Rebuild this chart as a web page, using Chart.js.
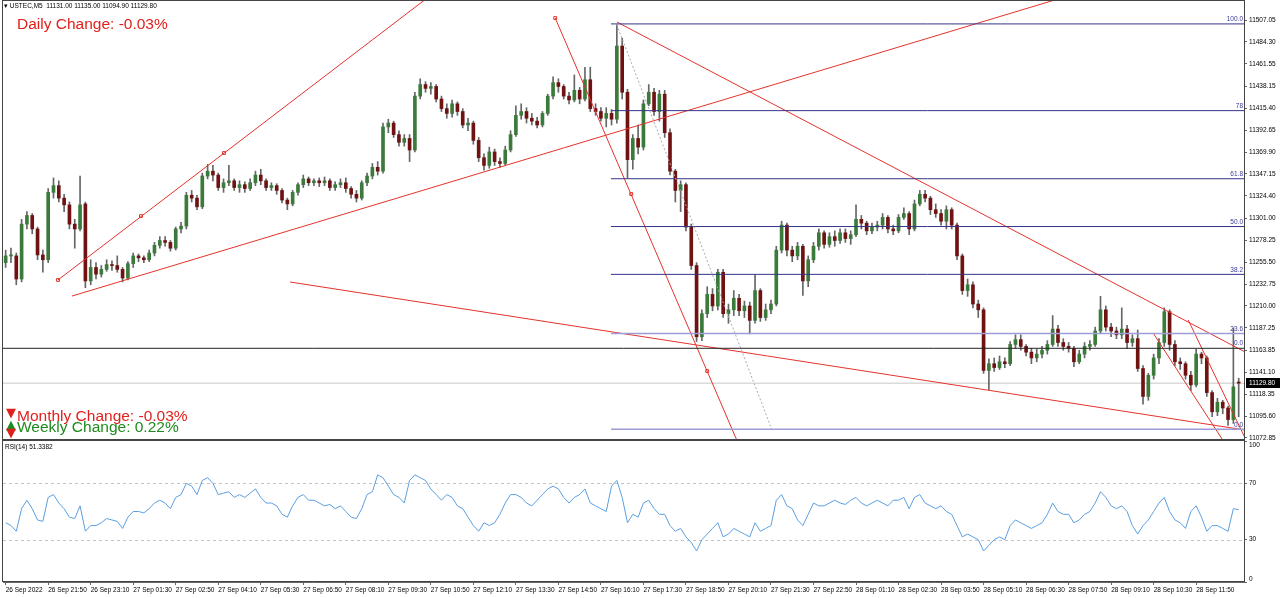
<!DOCTYPE html>
<html>
<head>
<meta charset="utf-8">
<script src="https://cdn.jsdelivr.net/npm/chart.js@4.4.0/dist/chart.umd.min.js"></script>
<style>
body { margin: 0; background: #fff; width: 1280px; height: 598px; overflow: hidden; position: relative; font-family: "Liberation Sans", Arial, sans-serif; }
canvas { position: absolute; left: 0; }
#priceChart { top: 0; }
#rsiChart { top: 430px; }
.lbl { position: absolute; white-space: pre; }
.small { font-size: 6.5px; color: #000; line-height: 8px; }
.big { font-size: 15.5px; line-height: 15px; }
.tri { font-family: "DejaVu Sans", sans-serif; font-size: 13px; line-height: 13px; }
</style>
</head>
<body>
<canvas id="priceChart" width="1280" height="441"></canvas>
<canvas id="rsiChart" width="1280" height="168"></canvas>

<div class="lbl small" style="left:4px; top:2px;">▾ USTEC,M5  11131.00 11135.00 11094.90 11129.80</div>
<div class="lbl big" style="left:17px; top:16px; color:#e0201c;">Daily Change: -0.03%</div>
<div class="lbl tri" style="left:6px; top:406px; color:#e0201c;">▼</div>
<div class="lbl big" style="left:17px; top:408px; color:#e0201c;">Monthly Change: -0.03%</div>
<div class="lbl tri" style="left:6px; top:418px; color:#1f8a1f;">▲</div>
<div class="lbl big" style="left:17px; top:419px; color:#1f8a1f;">Weekly Change: 0.22%</div>
<div class="lbl tri" style="left:6px; top:426px; color:#e0201c;">▼</div>
<div class="lbl small" style="left:5px; top:443px;">RSI(14) 51.3382</div>

<script>
// USTEC M5 candles (two M5 bars per candle)
const opens = [
    11255, 11262, 11262, 11238, 11295, 11304, 11290, 11263, 11258, 11328,
    11335, 11322, 11315, 11295, 11290, 11316, 11236, 11250, 11243, 11248,
    11253, 11252, 11248, 11239, 11254, 11262, 11260, 11258, 11265, 11273,
    11278, 11276, 11270, 11290, 11293, 11325, 11322, 11313, 11345, 11350,
    11346, 11333, 11338, 11340, 11333, 11336, 11332, 11338, 11346, 11340,
    11333, 11335, 11330, 11320, 11316, 11328, 11336, 11342, 11338, 11340,
    11338, 11340, 11333, 11336, 11338, 11332, 11326, 11322, 11338, 11345,
    11354, 11350, 11396, 11400, 11388, 11380, 11384, 11372, 11428, 11440,
    11436, 11438, 11425, 11415, 11410, 11420, 11412, 11398, 11400, 11382,
    11364, 11356, 11370, 11360, 11358, 11372, 11388, 11408, 11412, 11405,
    11402, 11398, 11410, 11428, 11442, 11438, 11428, 11424, 11434, 11425,
    11445, 11415, 11412, 11405, 11410, 11404, 11480, 11432, 11362, 11384,
    11375, 11420, 11432, 11412, 11430, 11390, 11350, 11330, 11336, 11292,
    11252, 11178, 11202, 11222, 11210, 11245, 11202, 11206, 11218, 11205,
    11210, 11195, 11226, 11198, 11206, 11212, 11268, 11294, 11268, 11262,
    11272, 11236, 11258, 11272, 11286, 11274, 11282, 11278, 11286, 11280,
    11284, 11300, 11296, 11288, 11292, 11294, 11302, 11290, 11288, 11302,
    11306, 11290, 11316, 11326, 11322, 11310, 11306, 11298, 11310, 11294,
    11262, 11226, 11232, 11212, 11206, 11143, 11150, 11146, 11152, 11150,
    11170, 11175, 11168, 11162, 11156, 11160, 11164, 11170, 11186, 11172,
    11168, 11166, 11152, 11160, 11168, 11170, 11184, 11206, 11188, 11184,
    11180, 11186, 11172, 11176, 11145, 11116, 11138, 11156, 11172, 11204,
    11170, 11152, 11150, 11138, 11128, 11160, 11156, 11120, 11100, 11110,
    11104, 11092, 11131
]
const highs = [
    11268, 11270, 11265, 11300, 11308, 11306, 11292, 11268, 11332, 11343,
    11340, 11326, 11318, 11300, 11345, 11318, 11258, 11255, 11252, 11258,
    11257, 11262, 11250, 11256, 11265, 11264, 11262, 11268, 11276, 11282,
    11282, 11278, 11292, 11297, 11328, 11330, 11325, 11348, 11357, 11356,
    11348, 11342, 11356, 11342, 11340, 11339, 11342, 11350, 11352, 11342,
    11338, 11337, 11332, 11322, 11330, 11338, 11346, 11344, 11342, 11343,
    11344, 11342, 11339, 11342, 11343, 11334, 11330, 11340, 11348, 11358,
    11360, 11400, 11404, 11402, 11392, 11388, 11388, 11432, 11446, 11443,
    11442, 11440, 11428, 11420, 11424, 11422, 11415, 11405, 11402, 11385,
    11368, 11375, 11373, 11364, 11376, 11392, 11418, 11420, 11416, 11410,
    11406, 11412, 11430, 11448, 11446, 11440, 11432, 11450, 11437, 11458,
    11458, 11420, 11416, 11416, 11414, 11502, 11488, 11435, 11388, 11398,
    11424, 11440, 11436, 11434, 11434, 11394, 11352, 11340, 11338, 11295,
    11255, 11206, 11230, 11228, 11248, 11248, 11212, 11226, 11222, 11215,
    11214, 11242, 11228, 11212, 11216, 11272, 11298, 11296, 11272, 11276,
    11274, 11262, 11276, 11290, 11288, 11286, 11288, 11290, 11290, 11288,
    11315, 11304, 11298, 11296, 11298, 11306, 11304, 11294, 11305, 11312,
    11308, 11320, 11330, 11330, 11324, 11316, 11310, 11314, 11312, 11296,
    11264, 11238, 11235, 11216, 11208, 11155, 11156, 11158, 11156, 11173,
    11180, 11180, 11170, 11166, 11165, 11168, 11174, 11200, 11190, 11176,
    11172, 11168, 11164, 11172, 11174, 11188, 11220, 11210, 11192, 11188,
    11208, 11190, 11180, 11185, 11148, 11140, 11160, 11176, 11208, 11206,
    11174, 11156, 11152, 11142, 11165, 11162, 11158, 11122, 11114, 11112,
    11106, 11187, 11135
]
const lows = [
    11250, 11255, 11232, 11235, 11290, 11285, 11258, 11245, 11255, 11322,
    11318, 11308, 11290, 11270, 11288, 11229, 11232, 11238, 11240, 11246,
    11247, 11245, 11235, 11237, 11250, 11256, 11255, 11256, 11262, 11270,
    11272, 11267, 11268, 11286, 11290, 11318, 11310, 11311, 11342, 11340,
    11330, 11328, 11335, 11330, 11328, 11328, 11330, 11335, 11336, 11330,
    11330, 11326, 11317, 11310, 11314, 11325, 11333, 11335, 11335, 11334,
    11335, 11330, 11330, 11333, 11328, 11322, 11318, 11320, 11335, 11342,
    11346, 11348, 11390, 11385, 11376, 11376, 11360, 11370, 11425, 11432,
    11430, 11422, 11412, 11405, 11406, 11408, 11395, 11392, 11378, 11360,
    11351, 11353, 11356, 11354, 11356, 11370, 11386, 11404, 11400, 11398,
    11395, 11396, 11408, 11425, 11432, 11425, 11420, 11422, 11420, 11423,
    11412, 11408, 11402, 11396, 11398, 11400, 11425, 11343, 11352, 11368,
    11372, 11418, 11408, 11402, 11385, 11346, 11318, 11308, 11288, 11248,
    11173, 11174, 11198, 11205, 11206, 11198, 11192, 11200, 11200, 11198,
    11181, 11192, 11194, 11195, 11202, 11210, 11265, 11262, 11256, 11258,
    11221, 11230, 11255, 11268, 11270, 11271, 11272, 11275, 11276, 11274,
    11282, 11290, 11284, 11285, 11288, 11290, 11286, 11284, 11286, 11300,
    11284, 11288, 11314, 11318, 11305, 11302, 11294, 11290, 11290, 11258,
    11222, 11220, 11208, 11198, 11140, 11123, 11142, 11144, 11146, 11148,
    11166, 11164, 11158, 11150, 11152, 11156, 11160, 11168, 11168, 11164,
    11162, 11147, 11150, 11156, 11164, 11168, 11182, 11184, 11178, 11176,
    11176, 11166, 11168, 11142, 11108, 11112, 11134, 11150, 11168, 11164,
    11148, 11144, 11134, 11122, 11126, 11150, 11116, 11095, 11096, 11098,
    11086, 11088, 11094.9
]
const closes = [
    11262, 11262, 11238, 11295, 11304, 11290, 11263, 11258, 11328, 11335,
    11322, 11315, 11295, 11290, 11315, 11236, 11250, 11243, 11248, 11253,
    11252, 11248, 11239, 11254, 11262, 11260, 11258, 11265, 11273, 11278,
    11276, 11270, 11290, 11293, 11325, 11322, 11313, 11345, 11350, 11346,
    11333, 11338, 11340, 11333, 11336, 11332, 11338, 11346, 11340, 11333,
    11335, 11330, 11320, 11316, 11328, 11336, 11342, 11338, 11340, 11338,
    11340, 11333, 11336, 11338, 11332, 11326, 11322, 11338, 11345, 11354,
    11350, 11396, 11400, 11388, 11380, 11384, 11372, 11428, 11440, 11436,
    11438, 11425, 11415, 11410, 11420, 11412, 11398, 11400, 11382, 11364,
    11356, 11370, 11360, 11358, 11372, 11388, 11408, 11412, 11405, 11402,
    11398, 11410, 11428, 11442, 11438, 11428, 11424, 11434, 11425, 11445,
    11415, 11412, 11405, 11410, 11404, 11480, 11432, 11362, 11384, 11375,
    11420, 11432, 11412, 11430, 11390, 11350, 11330, 11336, 11292, 11252,
    11178, 11202, 11222, 11210, 11245, 11202, 11206, 11218, 11205, 11210,
    11195, 11226, 11198, 11206, 11212, 11268, 11294, 11268, 11262, 11272,
    11236, 11258, 11272, 11286, 11274, 11282, 11278, 11286, 11280, 11284,
    11300, 11296, 11288, 11292, 11294, 11302, 11290, 11288, 11302, 11306,
    11290, 11316, 11326, 11322, 11310, 11306, 11298, 11310, 11294, 11262,
    11226, 11232, 11212, 11206, 11143, 11150, 11146, 11152, 11150, 11170,
    11175, 11168, 11162, 11156, 11160, 11164, 11170, 11186, 11172, 11168,
    11166, 11152, 11160, 11168, 11170, 11184, 11206, 11188, 11184, 11180,
    11186, 11172, 11176, 11145, 11116, 11138, 11156, 11172, 11204, 11170,
    11152, 11150, 11138, 11128, 11160, 11156, 11120, 11100, 11110, 11104,
    11092, 11126, 11129.8
]

// RSI(14) line, one value per candle
const rsiValues = [
    42, 40, 36, 52, 58, 52, 44, 43, 60, 62,
    56, 52, 46, 45, 54, 36, 40, 40, 42, 45,
    44, 43, 38, 46, 50, 50, 49, 52, 56, 58,
    56, 52, 60, 62, 70, 68, 62, 72, 74, 70,
    62, 63, 64, 60, 62, 60, 63, 66, 60, 56,
    56, 54, 48, 46, 54, 60, 62, 58, 58, 56,
    54, 55, 52, 54, 50, 46, 45, 52, 62, 64,
    76, 74, 68, 62, 60, 56, 72, 76, 74, 72,
    66, 62, 58, 62, 60, 54, 52, 46, 40, 36,
    42, 40, 42, 48, 56, 62, 62, 60, 56, 54,
    58, 62, 66, 68, 66, 60, 56, 60, 62, 66,
    56, 54, 52, 50, 68, 72, 60, 42, 48, 46,
    56, 58, 52, 48, 48, 40, 36, 38, 32, 28,
    22, 30, 34, 38, 42, 32, 34, 38, 36, 34,
    32, 42, 36, 38, 40, 58, 62, 54, 52, 44,
    40, 48, 56, 54, 54, 56, 58, 56, 55, 58,
    60, 56, 54, 56, 58, 56, 54, 58, 58, 60,
    52, 60, 62, 56, 54, 52, 54, 50, 48, 40,
    32, 34, 32, 30, 22, 26, 30, 32, 30, 40,
    44, 42, 40, 38, 40, 42, 48, 56, 50, 48,
    48, 42, 44, 48, 50, 56, 64, 60, 54, 52,
    54, 50, 40, 34, 40, 44, 50, 56, 60, 50,
    44, 42, 38, 50, 54, 46, 36, 40, 40, 38,
    36, 52, 51.34
]

const timeLabels = [
    "26 Sep 2022", "26 Sep 21:50", "26 Sep 23:10", "27 Sep 01:30", "27 Sep 02:50",
    "27 Sep 04:10", "27 Sep 05:30", "27 Sep 06:50", "27 Sep 08:10", "27 Sep 09:30",
    "27 Sep 10:50", "27 Sep 12:10", "27 Sep 13:30", "27 Sep 14:50", "27 Sep 16:10",
    "27 Sep 17:30", "27 Sep 18:50", "27 Sep 20:10", "27 Sep 21:30", "27 Sep 22:50",
    "28 Sep 01:10", "28 Sep 02:30", "28 Sep 03:50", "28 Sep 05:10", "28 Sep 06:30",
    "28 Sep 07:50", "28 Sep 09:10", "28 Sep 10:30", "28 Sep 11:50"
]
const barsPerLabel = 8

const priceTicks = [
    11507.05, 11484.30, 11461.55, 11438.15, 11415.40, 11392.65, 11369.90,
    11347.15, 11324.40, 11301.00, 11278.25, 11255.50, 11232.75, 11210.00,
    11187.25, 11163.85, 11141.10, 11118.35, 11095.60, 11072.85
]
const rsiTicks = [0, 30, 70, 100]
const rsiLevels = [30, 70]

// fibonacci retracement drawn on the chart
const fibHigh = 11503
const fibLow = 11082
const fibStart = 113.9
const fibRatios = [0, 23.6, 38.2, 50, 61.8, 78.6, 100]
const fibNames = ["0.0", "23.6", "38.2", "50.0", "61.8", "78", "100.0"]
const fibDiagonal = [115.0, 11502, 144.2, 11081]

// red trend lines: [startBar, startPrice, endBar, endPrice]
const redLines = [
    [9.85, 11237, 81.7, 11540],
    [12.48, 11220.3, 205.9, 11542],
    [53.5, 11234.9, 233.2, 11081.1],
    [103.4, 11509.1, 138.2, 11062.5],
    [115.0, 11505, 233.2, 11162.2],
    [215.9, 11181.9, 229.0, 11070.7],
    [222.5, 11195.4, 233.2, 11072.8]
]
const anchorPoints = [
    [9.85, 11237], [25.46, 11303.4], [41.08, 11368.9],
    [103.4, 11509.1], [117.7, 11326.3], [132.0, 11142.4]
]
const blackLinePrice = 11166
const lastClose = closes[closes.length - 1]

const yMin = 11070.75
const yMax = 11526.8
const xMax = 233

Chart.defaults.font.family = "'Liberation Sans', Arial, sans-serif"
Chart.defaults.color = '#000'

const upColor = '#3a7a3a'
const downColor = '#701212'
const wickColor = '#666'
const redColor = '#e5322c'
const smallFont = "6.5px 'Liberation Sans', Arial"

const idx = closes.map((c, i) => i)
const bodyColors = closes.map((c, i) => c >= opens[i] ? upColor : downColor)

const segment = (x1, y1, x2, y2) => [{x: x1, y: y1}, {x: x2, y: y2}]

const lineSet = (data, color, extra) => Object.assign({
    type: 'line',
    data: data,
    borderColor: color,
    borderWidth: 1,
    pointRadius: 0,
    order: 0
}, extra || {})

const fibPrice = r => fibLow + (fibHigh - fibLow) * r / 100

// no extra room for half tick labels, the panels are fixed size
const noPad = s => {
    s.paddingTop = 0
    s.paddingBottom = 0
    s.paddingLeft = 0
    s.paddingRight = 0
}

const frame = {
    id: 'frame',
    afterDraw(chart) {
        const a = chart.chartArea
        const ctx = chart.ctx
        ctx.save()
        ctx.strokeStyle = '#444'
        ctx.lineWidth = 1
        ctx.strokeRect(a.left - 0.5, a.top - 0.5, a.right - a.left + 1, a.bottom - a.top)
        ctx.restore()
    }
}

const priceLabels = {
    id: 'priceLabels',
    afterDraw(chart) {
        const ctx = chart.ctx
        const a = chart.chartArea
        const y = chart.scales.y
        ctx.save()
        ctx.font = smallFont
        ctx.fillStyle = '#3a3a9a'
        ctx.textAlign = 'right'
        ctx.textBaseline = 'bottom'
        fibRatios.forEach((r, i) => {
            ctx.fillText(fibNames[i], a.right - 1, y.getPixelForValue(fibPrice(r)) - 1)
        })
        ctx.fillText("0.0", a.right - 1, y.getPixelForValue(blackLinePrice) - 2)
        // last price box on the axis
        const py = Math.round(y.getPixelForValue(lastClose))
        ctx.fillStyle = '#000'
        ctx.fillRect(a.right + 2, py - 5, 34, 10)
        ctx.fillStyle = '#fff'
        ctx.textAlign = 'left'
        ctx.textBaseline = 'middle'
        ctx.fillText(lastClose.toFixed(2), a.right + 5, py + 0.5)
        ctx.restore()
    }
}

const rsiLevelLines = {
    id: 'rsiLevelLines',
    beforeDatasetsDraw(chart) {
        const ctx = chart.ctx
        const a = chart.chartArea
        ctx.save()
        ctx.strokeStyle = '#c4c4c4'
        ctx.setLineDash([3, 3])
        ctx.lineWidth = 1
        rsiLevels.forEach(v => {
            const py = Math.round(chart.scales.y.getPixelForValue(v)) + 0.5
            ctx.beginPath()
            ctx.moveTo(a.left, py)
            ctx.lineTo(a.right, py)
            ctx.stroke()
        })
        ctx.restore()
    }
}

// rsi scale labels: top one sits under the tick, bottom one above it
const rsiAxisLabels = {
    id: 'rsiAxisLabels',
    afterDraw(chart) {
        const ctx = chart.ctx
        const s = chart.scales.y
        ctx.save()
        ctx.font = smallFont
        ctx.fillStyle = '#000'
        ctx.textAlign = 'left'
        rsiTicks.forEach(v => {
            ctx.textBaseline = v === s.max ? 'top' : (v === s.min ? 'bottom' : 'middle')
            ctx.fillText(String(v), s.left + 5, s.getPixelForValue(v) + (v === s.max ? 1 : 0))
        })
        ctx.restore()
    }
}

const datasets = [
    {
        type: 'bar',
        data: lows.map((l, i) => [l, highs[i]]),
        backgroundColor: wickColor,
        barThickness: 1,
        grouped: false,
        order: 3
    },
    {
        type: 'bar',
        data: opens.map((o, i) => [o, closes[i]]),
        backgroundColor: bodyColors,
        barThickness: 3,
        minBarLength: 1,
        grouped: false,
        order: 2
    },
    lineSet(segment(-0.5, lastClose, xMax, lastClose), '#c8c8c8', {order: 4}),
    lineSet(segment(-0.5, blackLinePrice, xMax, blackLinePrice), '#222'),
    lineSet(segment(fibDiagonal[0], fibDiagonal[1], fibDiagonal[2], fibDiagonal[3]), '#aaa', {borderDash: [2, 2]})
]
fibRatios.forEach(r => {
    const light = r < 30
    datasets.push(lineSet(segment(fibStart, fibPrice(r), xMax, fibPrice(r)), light ? '#9c9cd6' : '#34348a', {borderWidth: light ? 1.5 : 1}))
})
redLines.forEach(l => datasets.push(lineSet(segment(l[0], l[1], l[2], l[3]), redColor)))
datasets.push({
    type: 'line',
    data: anchorPoints.map(p => ({x: p[0], y: p[1]})),
    showLine: false,
    pointStyle: 'rect',
    pointRadius: 2,
    pointBorderWidth: 1,
    pointBorderColor: redColor,
    pointBackgroundColor: '#fff',
    order: 0
})

new Chart(document.querySelector('#priceChart'), {
    type: 'bar',
    data: { labels: idx, datasets: datasets },
    options: {
        responsive: false,
        animation: false,
        events: [],
        layout: { autoPadding: false, padding: { left: 3, top: 1, right: 0, bottom: 1 } },
        plugins: { legend: { display: false }, tooltip: { enabled: false } },
        scales: {
            x: { type: 'linear', min: -0.5, max: xMax, offset: false, display: false },
            y: {
                position: 'right',
                min: yMin,
                max: yMax,
                beginAtZero: false,
                afterBuildTicks: s => { s.ticks = priceTicks.map(v => ({value: v})) },
                afterFit: s => { s.width = 36; noPad(s) },
                ticks: { callback: v => v.toFixed(2), font: { size: 6.5 }, color: '#000', padding: 2 },
                grid: { drawOnChartArea: false, tickLength: 3, tickColor: '#666' },
                border: { color: '#666' }
            }
        }
    },
    plugins: [frame, priceLabels]
})

new Chart(document.querySelector('#rsiChart'), {
    type: 'line',
    data: {
        labels: idx,
        datasets: [{
            data: rsiValues,
            borderColor: '#5b9fe0',
            borderWidth: 1,
            pointRadius: 0,
            tension: 0
        }]
    },
    options: {
        responsive: false,
        animation: false,
        events: [],
        layout: { autoPadding: false, padding: { left: 3, top: 11, right: 0, bottom: 0 } },
        plugins: { legend: { display: false }, tooltip: { enabled: false } },
        scales: {
            x: {
                type: 'linear',
                min: -0.5,
                max: xMax,
                afterBuildTicks: s => { s.ticks = timeLabels.map((t, k) => ({value: k * barsPerLabel})) },
                afterFit: s => { s.height = 16; noPad(s) },
                ticks: { align: 'start', maxRotation: 0, autoSkip: false, callback: (v, i) => timeLabels[i], font: { size: 6.5 }, color: '#000', padding: 1 },
                grid: { drawOnChartArea: false, tickLength: 3, tickColor: '#666' },
                border: { color: '#666' }
            },
            y: {
                position: 'right',
                min: 0,
                max: 100,
                afterBuildTicks: s => { s.ticks = rsiTicks.map(v => ({value: v})) },
                afterFit: s => { s.width = 36; noPad(s) },
                ticks: { callback: () => '', font: { size: 6.5 }, padding: 2 },
                grid: { drawOnChartArea: false, tickLength: 3, tickColor: '#666' },
                border: { color: '#666' }
            }
        }
    },
    plugins: [frame, rsiLevelLines, rsiAxisLabels]
})
</script>
</body>
</html>
